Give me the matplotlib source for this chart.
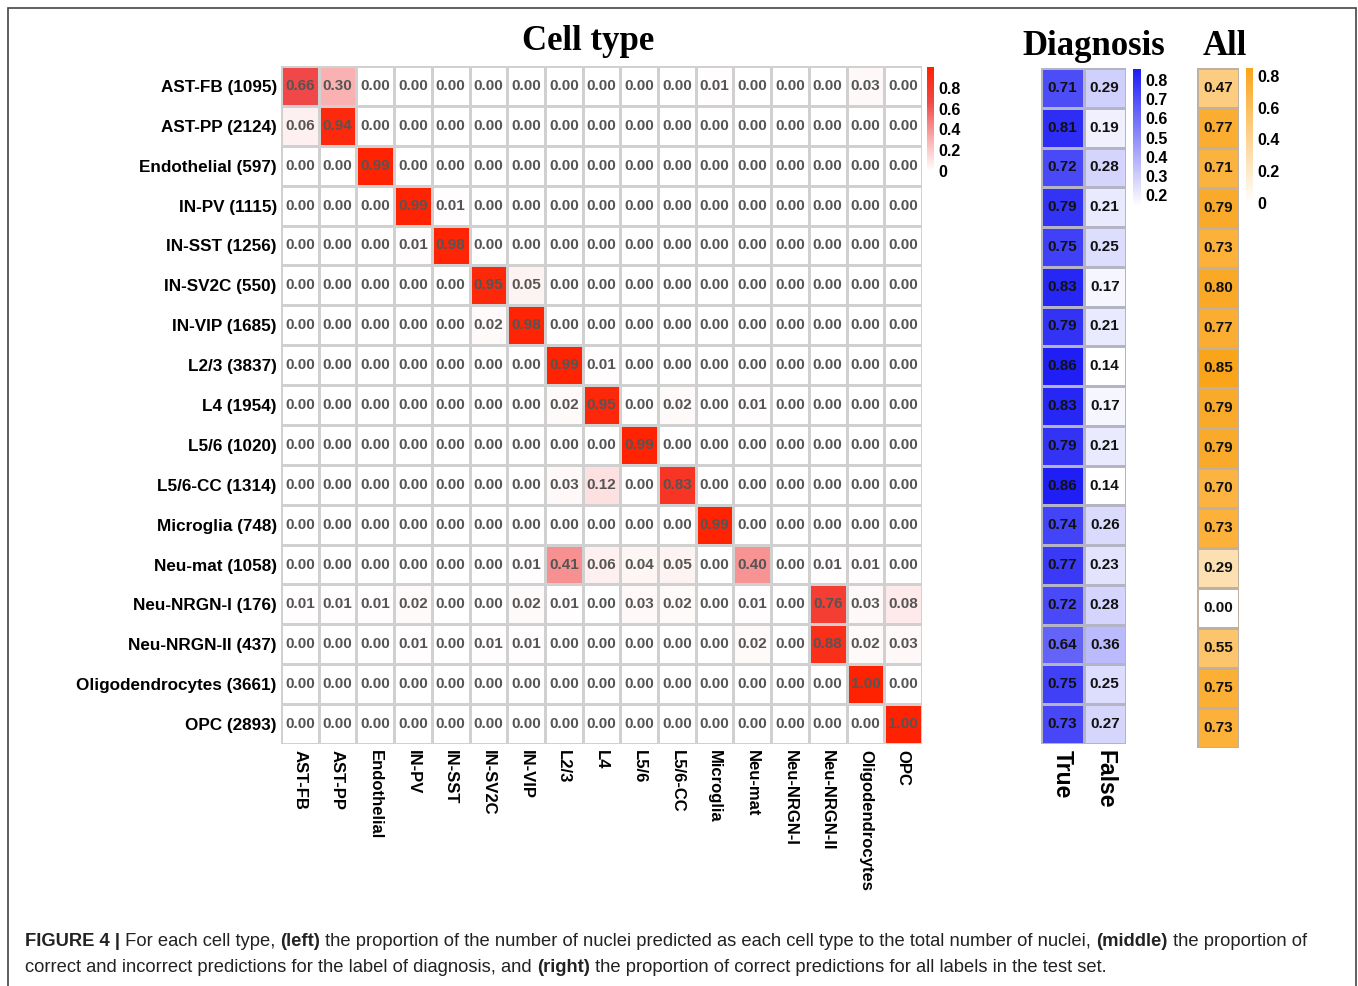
import numpy as np
import matplotlib
matplotlib.use('Agg')
import matplotlib.pyplot as plt
from matplotlib.colors import LinearSegmentedColormap, Normalize
from matplotlib.cm import ScalarMappable
from matplotlib.patches import Rectangle
from matplotlib import font_manager

# --- Data ---
cell_types = ['AST-FB', 'AST-PP', 'Endothelial', 'IN-PV', 'IN-SST', 'IN-SV2C', 'IN-VIP',
              'L2/3', 'L4', 'L5/6', 'L5/6-CC', 'Microglia', 'Neu-mat', 'Neu-NRGN-I',
              'Neu-NRGN-II', 'Oligodendrocytes', 'OPC']
cell_counts = [1095, 2124, 597, 1115, 1256, 550, 1685, 3837, 1954, 1020, 1314, 748,
               1058, 176, 437, 3661, 2893]

proportions = [
    [0.66, 0.30, 0.00, 0.00, 0.00, 0.00, 0.00, 0.00, 0.00, 0.00, 0.00, 0.01, 0.00, 0.00, 0.00, 0.03, 0.00],
    [0.06, 0.94, 0.00, 0.00, 0.00, 0.00, 0.00, 0.00, 0.00, 0.00, 0.00, 0.00, 0.00, 0.00, 0.00, 0.00, 0.00],
    [0.00, 0.00, 0.99, 0.00, 0.00, 0.00, 0.00, 0.00, 0.00, 0.00, 0.00, 0.00, 0.00, 0.00, 0.00, 0.00, 0.00],
    [0.00, 0.00, 0.00, 0.99, 0.01, 0.00, 0.00, 0.00, 0.00, 0.00, 0.00, 0.00, 0.00, 0.00, 0.00, 0.00, 0.00],
    [0.00, 0.00, 0.00, 0.01, 0.98, 0.00, 0.00, 0.00, 0.00, 0.00, 0.00, 0.00, 0.00, 0.00, 0.00, 0.00, 0.00],
    [0.00, 0.00, 0.00, 0.00, 0.00, 0.95, 0.05, 0.00, 0.00, 0.00, 0.00, 0.00, 0.00, 0.00, 0.00, 0.00, 0.00],
    [0.00, 0.00, 0.00, 0.00, 0.00, 0.02, 0.98, 0.00, 0.00, 0.00, 0.00, 0.00, 0.00, 0.00, 0.00, 0.00, 0.00],
    [0.00, 0.00, 0.00, 0.00, 0.00, 0.00, 0.00, 0.99, 0.01, 0.00, 0.00, 0.00, 0.00, 0.00, 0.00, 0.00, 0.00],
    [0.00, 0.00, 0.00, 0.00, 0.00, 0.00, 0.00, 0.02, 0.95, 0.00, 0.02, 0.00, 0.01, 0.00, 0.00, 0.00, 0.00],
    [0.00, 0.00, 0.00, 0.00, 0.00, 0.00, 0.00, 0.00, 0.00, 0.99, 0.00, 0.00, 0.00, 0.00, 0.00, 0.00, 0.00],
    [0.00, 0.00, 0.00, 0.00, 0.00, 0.00, 0.00, 0.03, 0.12, 0.00, 0.83, 0.00, 0.00, 0.00, 0.00, 0.00, 0.00],
    [0.00, 0.00, 0.00, 0.00, 0.00, 0.00, 0.00, 0.00, 0.00, 0.00, 0.00, 0.99, 0.00, 0.00, 0.00, 0.00, 0.00],
    [0.00, 0.00, 0.00, 0.00, 0.00, 0.00, 0.01, 0.41, 0.06, 0.04, 0.05, 0.00, 0.40, 0.00, 0.01, 0.01, 0.00],
    [0.01, 0.01, 0.01, 0.02, 0.00, 0.00, 0.02, 0.01, 0.00, 0.03, 0.02, 0.00, 0.01, 0.00, 0.76, 0.03, 0.08],
    [0.00, 0.00, 0.00, 0.01, 0.00, 0.01, 0.01, 0.00, 0.00, 0.00, 0.00, 0.00, 0.02, 0.00, 0.88, 0.02, 0.03],
    [0.00, 0.00, 0.00, 0.00, 0.00, 0.00, 0.00, 0.00, 0.00, 0.00, 0.00, 0.00, 0.00, 0.00, 0.00, 1.00, 0.00],
    [0.00, 0.00, 0.00, 0.00, 0.00, 0.00, 0.00, 0.00, 0.00, 0.00, 0.00, 0.00, 0.00, 0.00, 0.00, 0.00, 1.00],
]

diag_true = [0.71, 0.81, 0.72, 0.79, 0.75, 0.83, 0.79, 0.86, 0.83, 0.79, 0.86, 0.74, 0.77, 0.72, 0.64, 0.75, 0.73]
diag_false = [0.29, 0.19, 0.28, 0.21, 0.25, 0.17, 0.21, 0.14, 0.17, 0.21, 0.14, 0.26, 0.23, 0.28, 0.36, 0.25, 0.27]
all_correct = [0.47, 0.77, 0.71, 0.79, 0.73, 0.80, 0.77, 0.85, 0.79, 0.79, 0.70, 0.73, 0.29, 0.00, 0.55, 0.75, 0.73]

# --- Style ---
W, H = 1358, 986
SANS = 'Liberation Sans'
SERIF = 'Liberation Serif'
installed = {f.name for f in font_manager.fontManager.ttflist}
NARROW = 'Liberation Sans Narrow' if 'Liberation Sans Narrow' in installed else SANS
plt.rcParams['font.family'] = [SANS, 'DejaVu Sans']

red_cmap = LinearSegmentedColormap.from_list(
    'reds', [(0.0, '#ffffff'), (0.3, '#fab0b0'), (0.66, '#f04848'), (1.0, '#ff2200')])
blue_cmap = LinearSegmentedColormap.from_list('blues', ['#ffffff', '#1e1ef5'])
orange_cmap = LinearSegmentedColormap.from_list('oranges', ['#ffffff', '#faa41a'])


def px_box(x0, y0, x1, y1):
    """Pixel box (top-left origin) to figure fraction [l, b, w, h]."""
    return [x0 / W, 1 - y1 / H, (x1 - x0) / W, (y1 - y0) / H]


def draw_cells(ax, data, cmap, vmin, vmax, edge, txt_color):
    nr, nc = data.shape
    ax.pcolormesh(np.arange(nc + 1), np.arange(nr + 1), data, cmap=cmap,
                  vmin=vmin, vmax=vmax, edgecolors=edge, linewidth=1.0)
    ax.set_xlim(0, nc)
    ax.set_ylim(nr, 0)
    for i in range(nr):
        for j in range(nc):
            ax.text(j + 0.5, i + 0.5, f'{data[i, j]:.2f}', ha='center', va='center',
                    fontsize=11, fontweight='bold', color=txt_color)
    for s in ax.spines.values():
        s.set_visible(False)
    ax.tick_params(length=0)


def draw_cbar(box, cmap, vmin, vmax, ticks, labels):
    cax = fig.add_axes(px_box(*box))
    cb = fig.colorbar(ScalarMappable(norm=Normalize(vmin, vmax), cmap=cmap), cax=cax)
    cb.outline.set_visible(False)
    cb.set_ticks(ticks)
    cb.set_ticklabels(labels)
    cax.tick_params(length=0, pad=3)
    for t in cax.get_yticklabels():
        t.set_fontsize(11.5)
        t.set_fontweight('bold')


fig = plt.figure(figsize=(W / 100, H / 100), dpi=100)

# outer frame
fig.patches.append(Rectangle((8 / W, -0.01), (1356 - 8) / W, 1 - 8 / H + 0.01,
                             transform=fig.transFigure, fill=False,
                             edgecolor='#444444', linewidth=1.2))

# --- Cell type heatmap ---
ax = fig.add_axes(px_box(281, 66, 922, 744))
draw_cells(ax, np.array(proportions), red_cmap, 0, 1, '#d0d0d0', '#555555')
ax.set_yticks(np.arange(len(cell_types)) + 0.5)
ax.set_yticklabels([f'{c} ({n})' for c, n in zip(cell_types, cell_counts)],
                   fontsize=12.3, fontweight='bold')
ax.set_xticks(np.arange(len(cell_types)) + 0.5)
ax.set_xticklabels(cell_types, rotation=-90, fontsize=12, fontweight='bold',
                   ha='center', va='top')
ax.tick_params(axis='y', pad=3)
ax.tick_params(axis='x', pad=4)
fig.text(588 / W, 1 - 50 / H, 'Cell type', ha='center', va='baseline',
         fontsize=25, fontweight='bold', family=SERIF)
draw_cbar((927, 67, 934, 171), red_cmap, 0, 1, [0, 0.2, 0.4, 0.6, 0.8],
          ['0', '0.2', '0.4', '0.6', '0.8'])

# --- Diagnosis ---
axd = fig.add_axes(px_box(1041, 68, 1126, 744))
diag = np.column_stack([diag_true, diag_false])
draw_cells(axd, diag, blue_cmap, 0.14, 0.86, '#b4b4c4', '#111111')
axd.set_yticks([])
axd.set_xticks([0.5, 1.5])
axd.set_xticklabels(['True', 'False'], rotation=-90, fontsize=16.5, fontweight='bold',
                    ha='center', va='top')
axd.tick_params(axis='x', pad=4)
fig.text(1094 / W, 1 - 55 / H, 'Diagnosis', ha='center', va='baseline',
         fontsize=25, fontweight='bold', family=SERIF)
draw_cbar((1133, 69, 1141, 206), blue_cmap, 0.14, 0.86,
          [0.2, 0.3, 0.4, 0.5, 0.6, 0.7, 0.8],
          ['0.2', '0.3', '0.4', '0.5', '0.6', '0.7', '0.8'])

# --- All ---
axa = fig.add_axes(px_box(1197, 68, 1239, 748))
draw_cells(axa, np.array(all_correct)[:, None], orange_cmap, 0, 0.85, '#c0b0a0', '#111111')
axa.set_xticks([])
axa.set_yticks([])
fig.text(1225 / W, 1 - 55 / H, 'All', ha='center', va='baseline',
         fontsize=25, fontweight='bold', family=SERIF)
draw_cbar((1246, 68, 1253, 203), orange_cmap, 0, 0.85, [0, 0.2, 0.4, 0.6, 0.8],
          ['0', '0.2', '0.4', '0.6', '0.8'])

# --- Caption (mixed bold / regular runs) ---
renderer = fig.canvas.get_renderer()
caption_lines = [
    [('FIGURE 4 |', 'bold'), (' For each cell type, ', 'normal'), ('(left)', 'bold'),
     (' the proportion of the number of nuclei predicted as each cell type to the total number of nuclei, ', 'normal'),
     ('(middle)', 'bold'), (' the proportion of', 'normal')],
    [('correct and incorrect predictions for the label of diagnosis, and ', 'normal'),
     ('(right)', 'bold'), (' the proportion of correct predictions for all labels in the test set.', 'normal')],
]
for line, ypx in zip(caption_lines, [942, 967]):
    x = 25 / W
    for text, weight in line:
        t = fig.text(x, 1 - ypx / H, text, ha='left', va='center', fontsize=13.2,
                     fontweight=weight, family=NARROW, color='#222222')
        bb = t.get_window_extent(renderer)
        x = bb.x1 / W

fig.savefig('out.png', dpi=100)
